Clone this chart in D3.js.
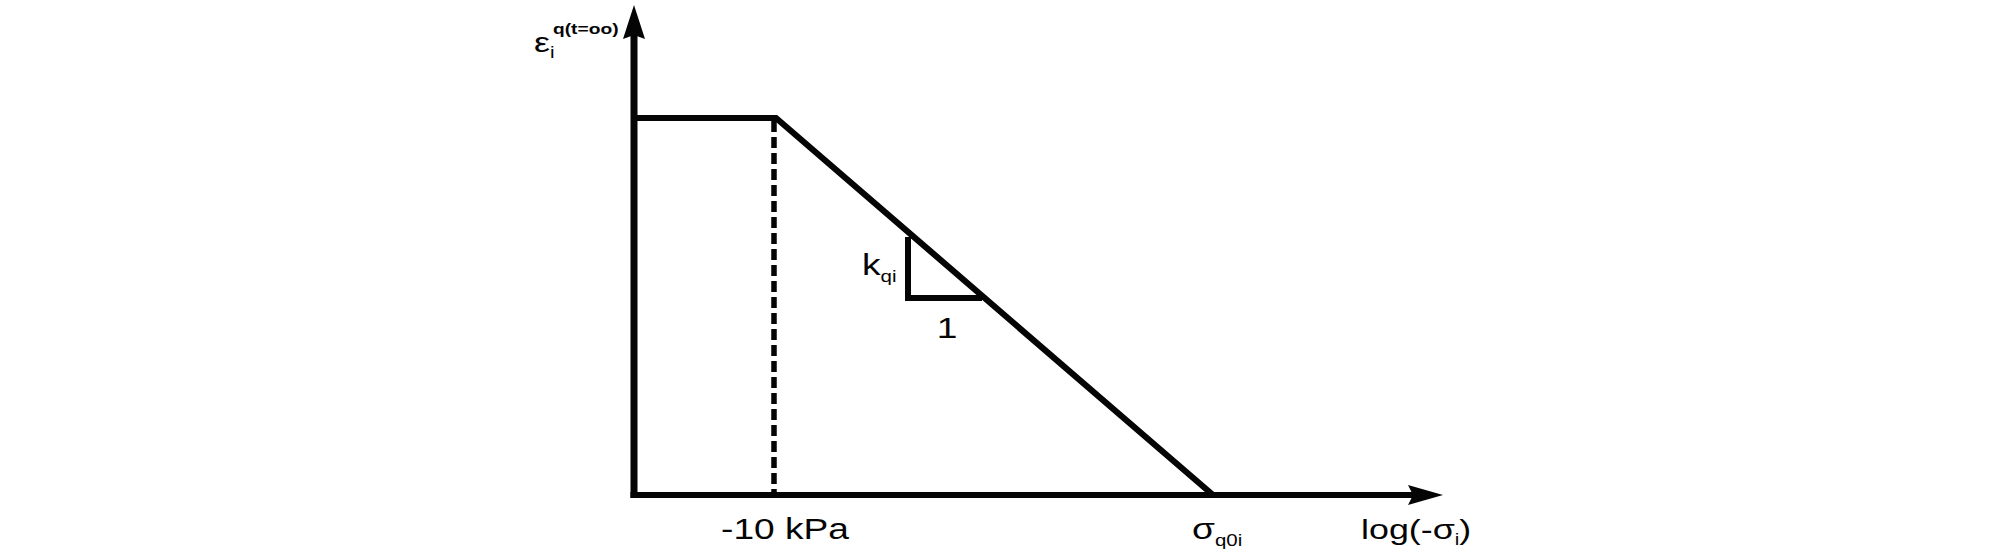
<!DOCTYPE html>
<html><head><meta charset="utf-8">
<script src="https://cdn.jsdelivr.net/npm/d3@7"></script>
<style>html,body{margin:0;padding:0;background:#fff;}svg{display:block;}</style>
</head><body>
<script>
// Data (abstract units: x = log(-sigma), y = strain)
const curveX = [0, 1.42, 5.79];
const curveY = [3.77, 3.77, 0];
const kneeX = 1.42;
const slopeTriX = [2.74, 2.74, 3.48];
const slopeTriY = [2.58, 1.97, 1.97];
const xTickLabels = ["-10 kPa", "σ"];
const xTickPos = [1.42, 5.79];

const W = 2008, H = 557;
const x = d3.scaleLinear().domain([0, 8.09]).range([634, 1443]);
const y = d3.scaleLinear().domain([0, 4.9]).range([495, 5]);

const svg = d3.select("body").append("svg").attr("width", W).attr("height", H);
const ink = "#050505";
const font = "'Liberation Sans', Arial, sans-serif";
const SX = 1.28; // horizontal stretch of the original figure

function stretchedText(px, py) {
  return svg.append("g").attr("transform", `translate(${px},${py}) scale(${SX},1)`)
    .append("text").attr("x", 0).attr("y", 0)
    .attr("font-family", font).attr("fill", ink);
}

// Axes lines
svg.append("line").attr("x1", x(0)).attr("x2", x(0)).attr("y1", y(4.6)).attr("y2", y(0) + 3)
  .attr("stroke", ink).attr("stroke-width", 7);
svg.append("line").attr("x1", x(0) - 3.5).attr("x2", x(7.8)).attr("y1", y(0)).attr("y2", y(0))
  .attr("stroke", ink).attr("stroke-width", 5.8);
// Arrowheads (slightly notched)
const yTip = y(4.9), yBase = y(4.56);
svg.append("path")
  .attr("d", `M${x(0)},${yTip} L${x(0)+11},${yBase} L${x(0)},${yBase-4} L${x(0)-11},${yBase} Z`)
  .attr("fill", ink);
const xTip = x(8.09), xBase = x(7.74);
svg.append("path")
  .attr("d", `M${xTip},${y(0)} L${xBase},${y(0)-10} L${xBase+5},${y(0)} L${xBase},${y(0)+10} Z`)
  .attr("fill", ink);

// Dashed vertical
svg.append("line")
  .attr("x1", x(kneeX) - 2).attr("x2", x(kneeX) - 2)
  .attr("y1", y(curveY[1]) + 3).attr("y2", y(0))
  .attr("stroke", ink).attr("stroke-width", 5.5).attr("stroke-dasharray", "11,5");

// Main curve
svg.append("path")
  .attr("d", d3.line().x(d => x(d[0])).y(d => y(d[1]))(curveX.map((v, i) => [v, curveY[i]])))
  .attr("fill", "none").attr("stroke", ink).attr("stroke-width", 6.2)
  .attr("stroke-linejoin", "miter");

// Slope triangle
svg.append("path")
  .attr("d", d3.line().x(d => x(d[0])).y(d => y(d[1]))(slopeTriX.map((v, i) => [v, slopeTriY[i]])))
  .attr("fill", "none").attr("stroke", ink).attr("stroke-width", 6)
  .attr("stroke-linejoin", "miter");

// Slope labels
const kt = stretchedText(862, 275).attr("font-size", 29);
kt.append("tspan").text("k");
kt.append("tspan").attr("font-size", 16).attr("dy", 7).text("qi");
stretchedText(947, 338).attr("text-anchor", "middle").attr("font-size", 29).text("1");

// X tick labels
stretchedText(x(xTickPos[0]) + 9, 539).attr("text-anchor", "middle").attr("font-size", 29)
  .text(xTickLabels[0]);
const st = stretchedText(1192, 539).attr("font-size", 29);
st.append("tspan").text(xTickLabels[1]);
st.append("tspan").attr("font-size", 16).attr("dy", 7).text("q0i");

// X axis title
const xt = stretchedText(1361, 539).attr("font-size", 28);
xt.append("tspan").text("log(-σ");
xt.append("tspan").attr("font-size", 16).attr("dy", 6).text("i");
xt.append("tspan").attr("dy", -6).text(")");

// Y axis title
const yt = stretchedText(534, 52).attr("font-size", 28);
yt.append("tspan").text("ε");
yt.append("tspan").attr("font-size", 16).attr("dy", 6).text("i");
stretchedText(553, 34).attr("font-size", 15).attr("font-weight", "bold").text("q(t=oo)");
</script>
</body></html>
